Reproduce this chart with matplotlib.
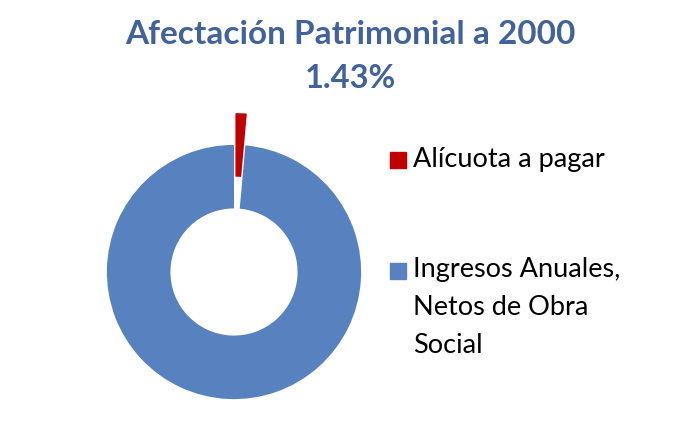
import matplotlib
matplotlib.use("Agg")
import matplotlib.pyplot as plt
from matplotlib.patches import Rectangle

title_lines = ["Afectación Patrimonial a 2000", "1.43%"]
labels = ["Alícuota a pagar", "Ingresos Anuales,\nNetos de Obra\nSocial"]
values = [1.43, 98.57]
colors = ["#C00000", "#5882BF"]

W, H = 685, 430
fig = plt.figure(figsize=(W / 100, H / 100), dpi=100)
fig.patch.set_facecolor("white")

# axes centered on donut center (234, 272) px from top
cx, cy = 234, H - 272
half = 150
ax = fig.add_axes([(cx - half) / W, (cy - half) / H, 2 * half / W, 2 * half / H])
ax.pie(values, colors=colors, startangle=90, counterclock=False,
       explode=[0.25, 0], wedgeprops=dict(width=0.5, linewidth=0))
lim = 1.18
ax.set_xlim(-lim, lim)
ax.set_ylim(-lim, lim)
ax.set_aspect("equal")
ax.axis("off")

title_color = "#41629A"
fig.text(350 / W, 1 - 35 / H, title_lines[0], ha="center", va="center",
         fontsize=24, fontweight="bold", color=title_color, family="Lato")
fig.text(350 / W, 1 - 79 / H, title_lines[1], ha="center", va="center",
         fontsize=23.5, fontweight="bold", color=title_color, family="Lato")

# legend
sq_x, sq_size = 390, 16
entries_top = [152, 263]
baselines = [167, 277]
line_step = 38
for lab, col, top, base in zip(labels, colors, entries_top, baselines):
    fig.patches.append(Rectangle((sq_x / W, 1 - (top + sq_size) / H), sq_size / W, sq_size / H,
                                 transform=fig.transFigure, color=col, figure=fig))
    for i, line in enumerate(lab.split("\n")):
        fig.text(413 / W, 1 - (base + i * line_step) / H, line, ha="left", va="baseline",
                 fontsize=19.5, color="black", family="Lato")

fig.savefig("out.png", dpi=100)
